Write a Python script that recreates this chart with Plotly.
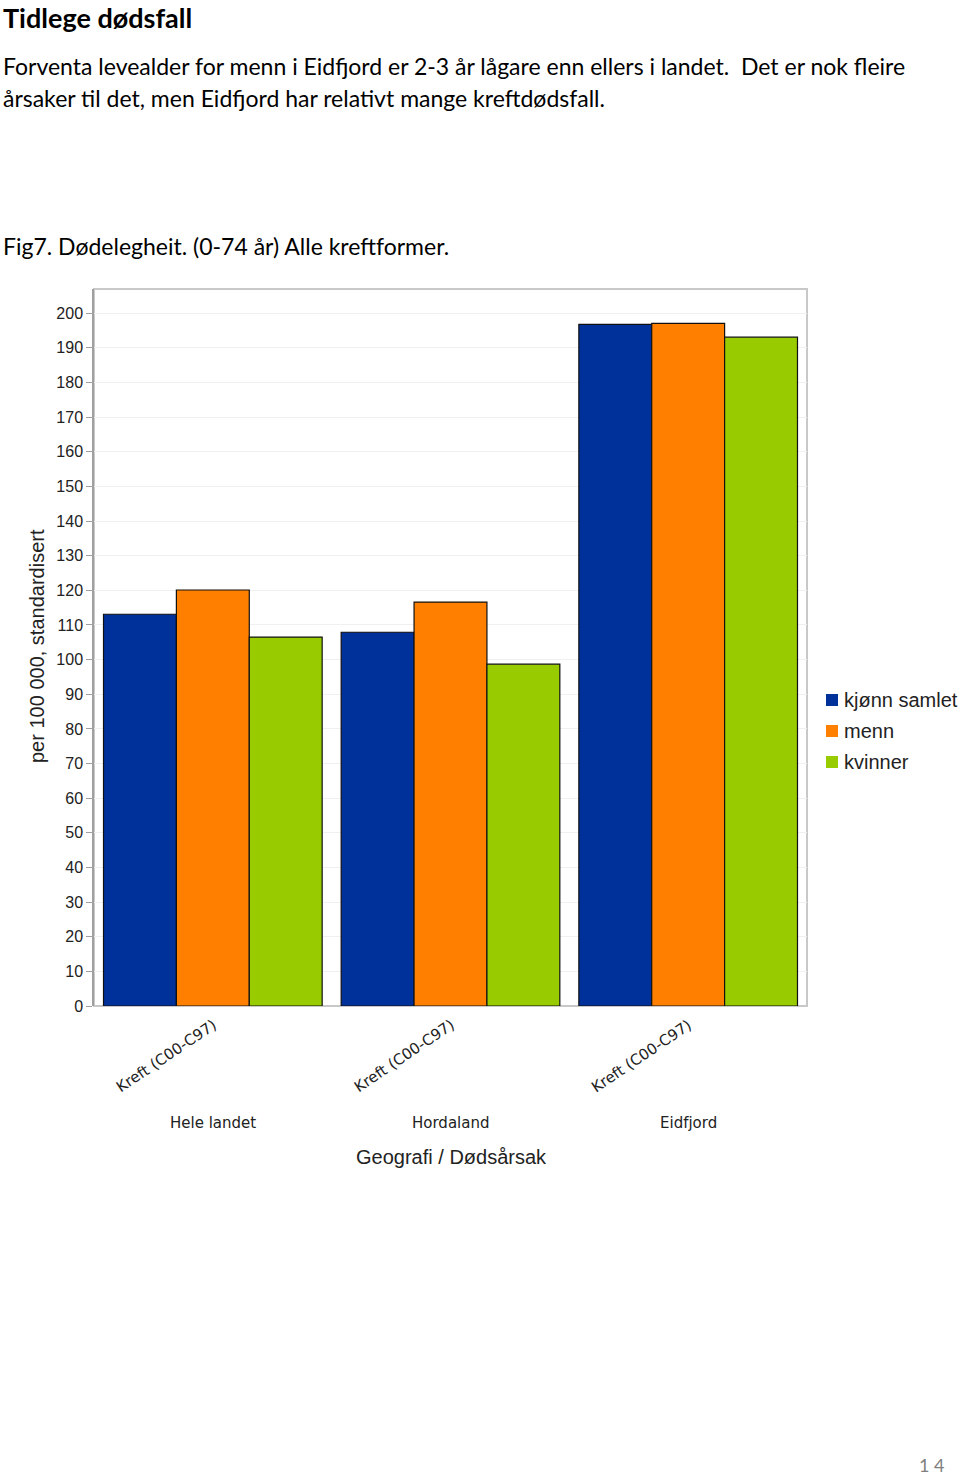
import plotly.graph_objects as go

# ---- data ----
regions = ["Hele landet", "Hordaland", "Eidfjord"]
cause_label = "Kreft (C00-C97)"
series_names = ["kjønn samlet", "menn", "kvinner"]
kjonn_samlet = [113.1, 107.9, 196.8]
menn = [120.1, 116.6, 197.1]
kvinner = [106.5, 98.7, 193.1]
y_ticks = list(range(0, 201, 10))

colors = ["#00309A", "#FF8000", "#99CC00"]
series_values = [kjonn_samlet, menn, kvinner]

W, H = 960, 1476
L, R, T, B = 94, 807, 289, 1006  # plot area in pixels


def px(x):
    return (x - L) / (R - L)


def py(y):
    return (B - y) / (B - T)


fig = go.Figure()
for name, vals, c in zip(series_names, series_values, colors):
    fig.add_trace(go.Bar(
        x=regions, y=vals, name=name, showlegend=False,
        marker=dict(color=c, line=dict(color="#111111", width=1.2)),
    ))

chart_font = "Liberation Sans, Arial"
annotations = []
# rotated cause labels + region labels
for r in regions:
    annotations.append(dict(
        x=r, xref="x", y=py(1013), yref="paper", text=cause_label,
        showarrow=False, textangle=-34, xanchor="right", yanchor="top",
        font=dict(family="DejaVu Sans", size=15, color="#222222"),
        xshift=10,
    ))
    annotations.append(dict(
        x=r, xref="x", y=py(1123), yref="paper", text=r,
        showarrow=False, xanchor="center", yanchor="middle",
        font=dict(family="DejaVu Sans", size=15, color="#222222"),
    ))

# axis titles
annotations.append(dict(
    x=px(451), xref="paper", y=py(1157), yref="paper", text="Geografi / Dødsårsak",
    showarrow=False, xanchor="center", yanchor="middle",
    font=dict(family=chart_font, size=20, color="#222222"),
))
annotations.append(dict(
    x=px(37), xref="paper", y=py(646), yref="paper", text="per 100 000, standardisert",
    showarrow=False, xanchor="center", yanchor="middle", textangle=-90,
    font=dict(family=chart_font, size=20, color="#222222"),
))

# manual legend
shapes = []
leg_rows = [700, 731, 762]
for name, c, yy in zip(series_names, colors, leg_rows):
    shapes.append(dict(type="rect", xref="paper", yref="paper",
                       x0=px(826), x1=px(838), y0=py(yy + 6), y1=py(yy - 6),
                       fillcolor=c, line=dict(width=0)))
    annotations.append(dict(
        x=px(843), xref="paper", y=py(yy), yref="paper", text=name,
        showarrow=False, xanchor="left", yanchor="middle", borderpad=0,
        font=dict(family=chart_font, size=20, color="#222222"),
    ))

# page text
body_font = "Lato, Carlito, Liberation Sans"
annotations.append(dict(
    x=px(2), xref="paper", y=py(0), yref="paper", text="<b>Tidlege dødsfall</b>",
    showarrow=False, xanchor="left", yanchor="top", borderpad=0,
    font=dict(family=body_font, size=27, color="#000000"),
))
annotations.append(dict(
    x=px(2), xref="paper", y=py(66), yref="paper",
    text="Forventa levealder for menn i Eidfjord er 2-3 år lågare enn ellers i landet.  Det er nok fleire",
    showarrow=False, xanchor="left", yanchor="middle", borderpad=0,
    font=dict(family=body_font, size=23, color="#000000"),
))
annotations.append(dict(
    x=px(2), xref="paper", y=py(98), yref="paper",
    text="årsaker til det, men Eidfjord har relativt mange kreftdødsfall.",
    showarrow=False, xanchor="left", yanchor="middle", borderpad=0,
    font=dict(family=body_font, size=23, color="#000000"),
))
annotations.append(dict(
    x=px(2), xref="paper", y=py(246), yref="paper",
    text="Fig7. Dødelegheit. (0-74 år) Alle kreftformer.",
    showarrow=False, xanchor="left", yanchor="middle", borderpad=0,
    font=dict(family=body_font, size=23, color="#000000"),
))
annotations.append(dict(
    x=px(946), xref="paper", y=py(1465), yref="paper", text="1 4",
    showarrow=False, xanchor="right", yanchor="middle", borderpad=0,
    font=dict(family=body_font, size=18, color="#808080"),
))

# top/right frame
shapes.append(dict(type="rect", xref="paper", yref="paper", x0=0, y0=0, x1=1, y1=1,
                   line=dict(color="#c8c8c8", width=2), layer="below"))

fig.update_layout(
    width=W, height=H,
    margin=dict(l=L, r=W - R, t=T, b=H - B, pad=0),
    paper_bgcolor="white", plot_bgcolor="white",
    barmode="group", bargap=0.08, bargroupgap=0,
    showlegend=False,
    annotations=annotations,
    shapes=shapes,
    font=dict(family=chart_font),
)
fig.update_xaxes(
    showticklabels=False, showline=False, showgrid=False, ticks="",
)
fig.update_yaxes(
    range=[0, 207], tickvals=y_ticks, ticktext=[str(v) for v in y_ticks],
    showgrid=True, gridcolor="#f0f0f0", gridwidth=1,
    showline=True, linecolor="#a0a0a0", linewidth=1.5, mirror=False,
    ticks="outside", ticklen=6, tickcolor="#a0a0a0",
    tickfont=dict(family=chart_font, size=16, color="#222222"),
    zeroline=False,
)

fig.write_html("out.html", config={"displayModeBar": False},
               post_script="document.body.style.margin='0';")
